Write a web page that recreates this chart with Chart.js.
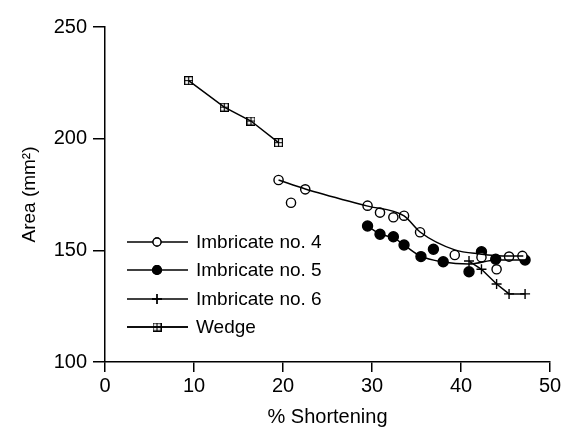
<!DOCTYPE html>
<html>
<head>
<meta charset="utf-8">
<script src="https://cdn.jsdelivr.net/npm/chart.js@4.4.1/dist/chart.umd.min.js"></script>
<style>
  html, body { margin: 0; padding: 0; background: #fff; }
  #wrap { width: 565px; height: 427px; }
</style>
</head>
<body>
<div id="wrap"><canvas id="chart" width="565" height="427"></canvas></div>
<script>
// values
const wedgeX = [9.4, 13.4, 16.4, 19.5];
const wedgeY = [226.0, 214.1, 207.9, 198.2];

const imb4X = [19.5, 20.9, 22.5, 29.5, 30.9, 32.4, 33.6, 35.4, 39.3, 42.3, 44.0, 45.4, 46.9];
const imb4Y = [181.5, 171.3, 177.3, 170.0, 166.9, 164.8, 165.5, 158.1, 147.9, 146.9, 141.5, 147.2, 147.5];
// smoothed curve drawn through imbricate no. 4
const fit4X = [19.5, 22.5, 29.4, 33.6, 35.4, 39.3, 42.1, 45.3, 47.0];
const fit4Y = [181.5, 177.5, 169.9, 165.4, 158.2, 150.2, 148.4, 147.5, 147.5];

const imb5X = [29.5, 30.9, 32.4, 33.6, 35.5, 36.9, 38.0, 40.9, 42.3, 43.9, 47.2];
const imb5Y = [160.9, 157.2, 156.1, 152.4, 147.2, 150.5, 144.9, 140.4, 149.4, 146.0, 145.7];
const fit5X = [29.5, 30.9, 32.5, 33.6, 35.4, 38.0, 40.9, 44.0, 47.2];
const fit5Y = [160.9, 157.3, 155.5, 152.4, 147.5, 144.8, 143.9, 145.7, 145.7];

const imb6X = [40.9, 42.3, 44.0, 45.4, 47.2];
const imb6Y = [145.2, 141.5, 134.9, 130.5, 130.5];

const xTicks = [0, 10, 20, 30, 40, 50];
const yTicks = [100, 150, 200, 250];
const legendLabels = ["Imbricate no. 4", "Imbricate no. 5", "Imbricate no. 6", "Wedge"];

const FONT = "'Liberation Sans', Arial, Helvetica, sans-serif";

function pts(xs, ys) {
  return xs.map((x, i) => ({ x: x, y: ys[i] }));
}

// square with a plus inside, used for the wedge
function boxCross(size) {
  const c = document.createElement("canvas");
  c.width = size; c.height = size;
  const g = c.getContext("2d");
  g.strokeStyle = "#000";
  g.lineWidth = 1.2;
  g.strokeRect(0.6, 0.6, size - 1.2, size - 1.2);
  g.beginPath();
  g.moveTo(size / 2, 0); g.lineTo(size / 2, size);
  g.moveTo(0, size / 2); g.lineTo(size, size / 2);
  g.stroke();
  return c;
}
const wedgeMark = boxCross(9);

const legendPlugin = {
  id: "insideLegend",
  afterDraw(chart) {
    const ctx = chart.ctx;
    const rows = [242, 270, 299, 327];
    ctx.save();
    legendLabels.forEach((lab, i) => {
      const ds = chart.data.datasets.find(d => d.label === lab);
      const y = rows[i];
      ctx.strokeStyle = "#000";
      ctx.lineWidth = 1.3;
      ctx.beginPath();
      ctx.moveTo(127, y); ctx.lineTo(188, y);
      ctx.stroke();
      Chart.helpers.drawPoint(ctx, {
        pointStyle: ds.pointStyle,
        radius: ds.pointStyle === "circle" ? ds.pointRadius - 0.6 : ds.pointRadius,
        rotation: 0,
        borderWidth: ds.borderWidth
      }, 157, y);
      if (ds.pointStyle === "circle") {
        ctx.fillStyle = ds.pointBackgroundColor;
        ctx.fill();
      }
      ctx.stroke();
      ctx.fillStyle = "#000";
      ctx.font = "19px " + FONT;
      ctx.textBaseline = "middle";
      ctx.textAlign = "left";
      ctx.fillText(lab, 196, y + 1);
    });
    ctx.restore();
  }
};

const lineCommon = {
  borderColor: "#000",
  pointBorderColor: "#000",
  borderWidth: 1.5,
  pointBorderWidth: 1.4
};

new Chart(document.getElementById("chart"), {
  type: "scatter",
  data: {
    datasets: [
      Object.assign({}, lineCommon, {
        label: "",
        data: pts(fit4X, fit4Y),
        showLine: true,
        pointRadius: 0,
        cubicInterpolationMode: "monotone"
      }),
      Object.assign({}, lineCommon, {
        label: "",
        data: pts(fit5X, fit5Y),
        showLine: true,
        pointRadius: 0,
        cubicInterpolationMode: "monotone"
      }),
      Object.assign({}, lineCommon, {
        label: "Imbricate no. 6",
        data: pts(imb6X, imb6Y),
        showLine: true,
        pointStyle: "cross",
        pointRadius: 5,
        borderWidth: 1.5
      }),
      Object.assign({}, lineCommon, {
        label: "Imbricate no. 4",
        data: pts(imb4X, imb4Y),
        showLine: false,
        pointStyle: "circle",
        pointRadius: 4.6,
        pointBackgroundColor: "#fff",
        borderWidth: 1.5
      }),
      Object.assign({}, lineCommon, {
        label: "Imbricate no. 5",
        data: pts(imb5X, imb5Y),
        showLine: false,
        pointStyle: "circle",
        pointRadius: 5,
        pointBackgroundColor: "#000",
        borderWidth: 1.5
      }),
      Object.assign({}, lineCommon, {
        label: "Wedge",
        data: pts(wedgeX, wedgeY),
        showLine: true,
        pointStyle: wedgeMark,
        pointRadius: 4.5,
        borderWidth: 1.5
      })
    ]
  },
  options: {
    responsive: false,
    animation: false,
    layout: { padding: { top: 27, right: 15, left: 0, bottom: 0 } },
    plugins: { legend: { display: false }, tooltip: { enabled: false } },
    scales: {
      x: {
        type: "linear",
        min: 0, max: 50,
        afterFit(s) { s.height = 65; },
        afterBuildTicks(s) { s.ticks = xTicks.map(v => ({ value: v })); },
        border: { display: true, color: "#000", width: 1.5 },
        grid: { drawOnChartArea: false, tickLength: 10, color: "#000", lineWidth: 1.5 },
        ticks: { color: "#000", padding: 2, font: { family: FONT, size: 20 } },
        title: {
          display: true, text: "% Shortening", color: "#000",
          font: { family: FONT, size: 20 }, padding: { top: 0, bottom: -2 }
        }
      },
      y: {
        type: "linear",
        min: 100, max: 250,
        afterFit(s) { s.width = 105; },
        afterBuildTicks(s) { s.ticks = yTicks.map(v => ({ value: v })); },
        border: { display: true, color: "#000", width: 1.5 },
        grid: { drawOnChartArea: false, tickLength: 12, color: "#000", lineWidth: 1.5 },
        ticks: { color: "#000", padding: 6, font: { family: FONT, size: 20 } },
        title: {
          display: true, text: "Area (mm\u00b2)", color: "#000",
          font: { family: FONT, size: 19 }, padding: { top: 18, bottom: 0 }
        }
      }
    }
  },
  plugins: [legendPlugin]
});
</script>
</body>
</html>
